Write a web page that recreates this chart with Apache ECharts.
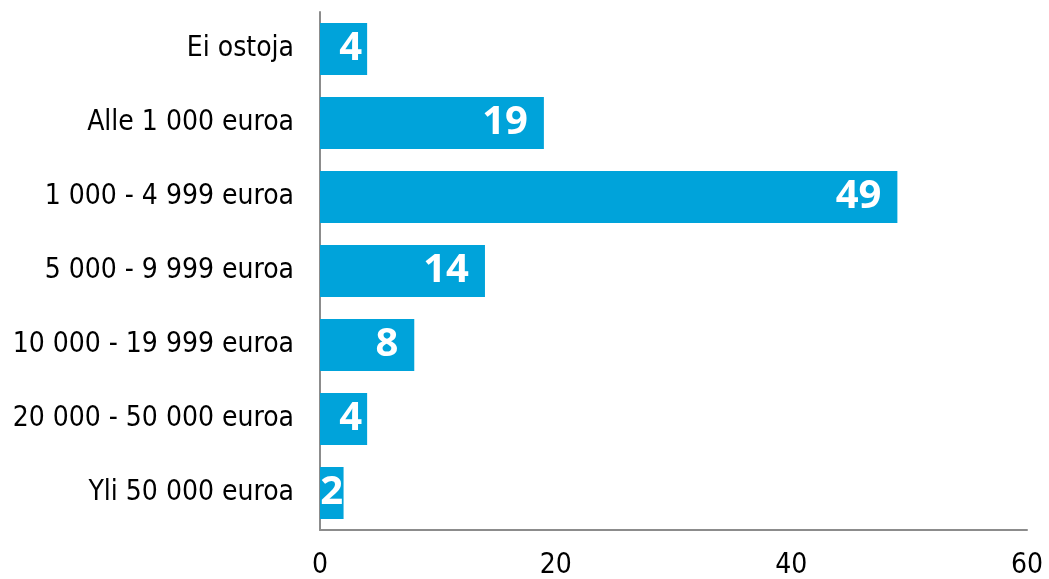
<!DOCTYPE html>
<html>
<head>
    <meta charset="UTF-8">
    <title>Ostot</title>
    <script src="https://cdn.jsdelivr.net/npm/echarts@6/dist/echarts.min.js"></script>
    <style>
        body { margin: 0; background: #fff; }
        #chart { width: 1049px; height: 579px; }
    </style>
</head>
<body>
    <div id="chart"></div>
    <script>
    // luokat ylhäältä alas
    const categories = ['Ei ostoja', 'Alle 1 000 euroa', '1 000 - 4 999 euroa', '5 000 - 9 999 euroa',
        '10 000 - 19 999 euroa', '20 000 - 50 000 euroa', 'Yli 50 000 euroa'];
    const values = [4, 19, 49, 14, 8, 4, 2];
    const xTicks = [0, 20, 40, 60];

    const chart = echarts.init(document.getElementById('chart'));
    const font = '"DejaVu Sans Condensed", "DejaVu Sans", sans-serif';

    // lyhyillä palkeilla arvo ei mahdu loppuun -> siirretään
    const barData = values.map(function (v) {
        if (v <= 2) return { value: v, label: { position: 'inside' } };
        if (v <= 5) return { value: v, label: { distance: 5 } };
        return v;
    });

    chart.setOption({
        animation: false,
        grid: { left: 320, right: 22, top: 12, bottom: 49, outerBoundsMode: 'none' },
        xAxis: {
            type: 'value',
            min: xTicks[0],
            max: xTicks[xTicks.length - 1],
            interval: 20,
            splitLine: { show: false },
            axisTick: { show: false },
            axisLine: { show: true, lineStyle: { color: '#8c8c8c', width: 2 } },
            axisLabel: { color: '#000', fontSize: 28, fontFamily: font, margin: 22 }
        },
        yAxis: {
            type: 'category',
            inverse: true,
            data: categories,
            axisTick: { show: false },
            axisLine: { show: true, lineStyle: { color: '#8c8c8c', width: 2 } },
            axisLabel: { color: '#000', fontSize: 28, fontFamily: font, margin: 26 }
        },
        series: [{
            type: 'bar',
            data: barData,
            barWidth: '70%',
            itemStyle: { color: '#00A3DA' },
            label: {
                show: true,
                position: 'insideRight',
                distance: 16,
                color: '#fff',
                fontSize: 40,
                fontWeight: 'bold',
                fontFamily: '"Open Sans", sans-serif'
            }
        }]
    });
    </script>
</body>
</html>
